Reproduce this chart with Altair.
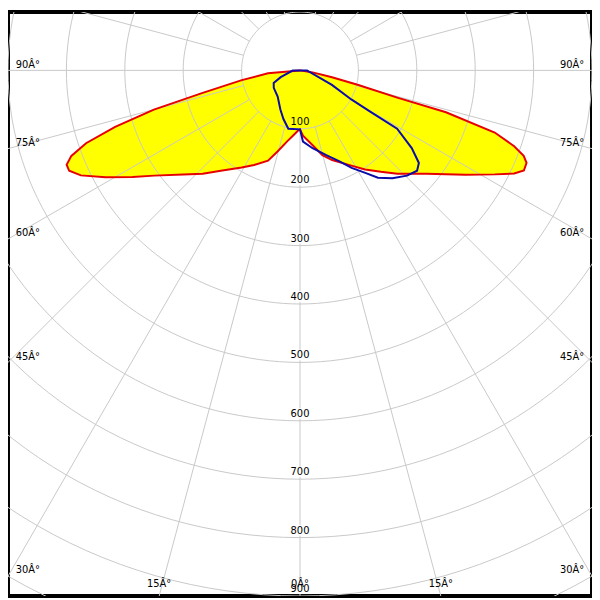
import math
import altair as alt
import pandas as pd
import numpy as np

# ---- photometric data (gamma angle in degrees, 0 = straight down; intensity) ----
red_angle = [-90, -84.8, -80.5, -77, -75, -73, -71.2, -69.5, -68, -66.5, -64.4, -61.2,
             -57.5, -54.2, -48.3, -43.3, -37.8, -31, -25.9, -19.5, -15.5, -10.1, -6, -1.8,
             0, 2.6, 9.6, 14.8, 19.7, 27.3, 33.3, 38.6, 43.3, 50.8, 57.8, 61.9, 64.3,
             65.9, 67.8, 69.1, 70.5, 72.3, 74, 74.4, 76, 78, 81, 90]
red_value = [0, 55, 101, 171, 259, 331, 387, 418, 431, 431, 416, 380,
             340, 308, 268, 243, 217, 194, 180, 164, 144, 123, 112, 103,
             101, 112, 130, 150, 163, 182, 203, 222, 243, 280, 335, 378, 407,
             420, 419, 410, 389, 350, 260, 173, 103, 56, 22, 0]

blue_angle = [-90, -70.7, -64.3, -56.3, -40.4, -26.6, -18.8, -11.3, 0, 2.4, 9.2, 17.2,
              23.3, 27.9, 32.5, 36, 40.6, 45.5, 49.4, 52.1, 55.2, 59, 59.5, 60.5, 65.6, 90]
blue_value = [12, 35, 50, 54, 59, 75, 88, 102, 101, 122, 135, 152,
              169, 189, 208, 227, 243, 257, 264, 258, 233, 194, 141, 101, 60, 12]

ring_labels = [100, 200, 300, 400, 500, 600, 700, 800, 900]
grid_rings = [100, 200, 300, 400, 500, 600, 700, 800, 900, 1000, 1100]
ray_angles = list(range(0, 360, 15))
angle_labels = [0, 15, 30, 45, 60, 75, 90]

# ---- frame geometry (data units) ----
W = H = 592
XMIN, XMAX = -500, 500
YMIN, YMAX = -900, 100
U = 1000 / 600.0  # data units per reference pixel

xs = alt.Scale(domain=[XMIN, XMAX], nice=False, zero=False)
ys = alt.Scale(domain=[YMIN, YMAX], nice=False, zero=False)
X = lambda f: alt.X(f, type="quantitative", scale=xs, axis=None)
Y = lambda f: alt.Y(f, type="quantitative", scale=ys, axis=None)

curves = pd.DataFrame(
    [{"series": "C0", "i": i, "angle": a, "value": v} for i, (a, v) in enumerate(zip(red_angle, red_value))]
    + [{"series": "C90", "i": i, "angle": a, "value": v} for i, (a, v) in enumerate(zip(blue_angle, blue_value))]
)

def polar(ch):
    return ch.transform_calculate(
        px="datum.value*sin(datum.angle*PI/180)",
        py="-datum.value*cos(datum.angle*PI/180)",
    )

base_curves = polar(alt.Chart(curves))

fill = base_curves.transform_filter("datum.series=='C0'").mark_line(
    interpolate="linear-closed", fill="#ffff00", strokeOpacity=0, clip=True
).encode(x=X("px:Q"), y=Y("py:Q"), order="i:Q")

red = base_curves.transform_filter("datum.series=='C0'").mark_line(
    interpolate="linear-closed", color="#e60000", strokeWidth=2, clip=True
).encode(x=X("px:Q"), y=Y("py:Q"), order="i:Q")

blue = base_curves.transform_filter("datum.series=='C90'").mark_line(
    interpolate="linear-closed", color="#0b0ba8", strokeWidth=2, clip=True
).encode(x=X("px:Q"), y=Y("py:Q"), order="i:Q")

# grid circles
circ = pd.DataFrame([{"ring": r, "t": t} for r in grid_rings for t in range(0, 362, 2)])
circles = alt.Chart(circ).transform_calculate(
    cx="datum.ring*sin(datum.t*PI/180)", cy="-datum.ring*cos(datum.t*PI/180)"
).mark_line(color="#c8c8c8", strokeWidth=1, clip=True).encode(
    x=X("cx:Q"), y=Y("cy:Q"), detail="ring:N", order="t:Q"
)

# radial rays
rays_df = pd.DataFrame({"a": ray_angles})
rays = alt.Chart(rays_df).transform_calculate(
    x1="100*sin(datum.a*PI/180)", y1="-100*cos(datum.a*PI/180)",
    x2="1150*sin(datum.a*PI/180)", y2="-1150*cos(datum.a*PI/180)",
).mark_rule(color="#c8c8c8", strokeWidth=1, clip=True).encode(
    x=X("x1:Q"), y=Y("y1:Q"), x2="x2:Q", y2="y2:Q"
)

# ring labels with white background (outside the filled beam)
rl = pd.DataFrame({"r": ring_labels, "txt": [str(v) for v in ring_labels]})
ring_bg = alt.Chart(rl).transform_filter("datum.r >= 200").transform_calculate(
    bx1=f"-{12*U}", bx2=f"{12*U}", by1=f"-datum.r+{2*U}", by2=f"-datum.r+{13*U}"
).mark_rect(color="white").encode(x=X("bx1:Q"), x2="bx2:Q", y=Y("by1:Q"), y2="by2:Q")
ring_txt = alt.Chart(rl).transform_calculate(ty="-datum.r", z="0").mark_text(
    font="DejaVu Sans", fontSize=10, color="black", baseline="middle", dy=-7
).encode(x=X("z:Q"), y=Y("ty:Q"), text="txt:N")

# angle labels placed where each ray meets the frame
rows = []
for a in angle_labels:
    sides = [1] if a == 0 else [-1, 1]
    for s in sides:
        t = math.radians(a)
        sn, cs = math.sin(t), math.cos(t)
        sx = (XMAX / sn) if sn > 1e-9 else float("inf")
        sy = (-YMIN / cs) if cs > 1e-9 else float("inf")
        if sx <= sy:
            hy = -sx * cs
            pos = "left" if s < 0 else "right"
            lx = (XMIN + 8 * U) if s < 0 else (XMAX - 8 * U)
            ly = hy + 6 * U
        else:
            pos = "bottom"
            lx = s * sy * sn
            ly = YMIN + 12 * U
        rows.append({"txt": f"{a}Â°", "pos": pos, "lx": lx, "ly": ly})
al = pd.DataFrame(rows)

def angle_text(pos, align):
    return alt.Chart(al).transform_filter(f"datum.pos=='{pos}'").mark_text(
        font="DejaVu Sans", fontSize=10, color="black", baseline="middle", align=align
    ).encode(x=X("lx:Q"), y=Y("ly:Q"), text="txt:N")

chart = alt.layer(
    fill, rays, ring_bg, circles, red, blue, ring_txt,
    angle_text("left", "left"), angle_text("right", "right"), angle_text("bottom", "center"),
).properties(
    width=W, height=H, padding=0, autosize=alt.AutoSizeParams(type="none"), background="white"
).configure_view(stroke="black", strokeWidth=4)

chart.save("out.html", embed_options={"renderer": "svg", "actions": False})
